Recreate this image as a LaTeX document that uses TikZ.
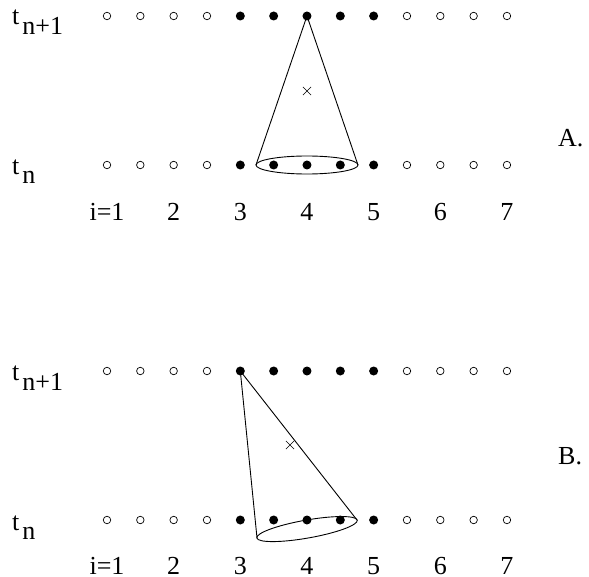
\documentclass[tikz,border=0pt]{standalone}
\usepackage{fontspec}
\setmainfont{Liberation Serif}
\usetikzlibrary{shapes.misc, calc}

\tikzset{
  opendot/.style={circle, draw, line width=0.7pt, inner sep=0pt, minimum size=7.5pt},
  fulldot/.style={circle, fill, inner sep=0pt, minimum size=9pt},
  lbl/.style={font=\fontsize{26}{30}\selectfont, inner sep=0pt, anchor=base},
  centre/.style={cross out, draw, line width=0.6pt, inner sep=0pt, minimum size=7.5pt},
  cone/.style={line width=0.9pt},
}

\begin{document}
\begin{tikzpicture}[x=1pt, y=-1pt]

    \useasboundingbox (0,0) rectangle (589,577);

    % ==========================================
    % VARIABLE DEFINITIONS
    % ==========================================
    \pgfmathsetmacro{\xfirst}{107}    % x of the first grid point
    \pgfmathsetmacro{\dx}{33.33}      % spacing of the grid points
    \pgfmathsetmacro{\Hrow}{149}      % distance between t_n and t_{n+1}
    \pgfmathsetmacro{\Rx}{51}         % half width of the cone base
    \pgfmathsetmacro{\Ry}{9}          % half height of the cone base
    % ==========================================

    % Grid points of both panels (A at the top, B below)
    \foreach \p/\ytop/\Hnum in {A/16/56, B/371/54} {
        \pgfmathsetmacro{\ybot}{\ytop + \Hrow}
        \foreach \k in {1,...,4}   \node[opendot] (\p-top-\k) at (\xfirst + \k*\dx - \dx, \ytop) {};
        \foreach \k in {5,...,9}   \node[fulldot] (\p-top-\k) at (\xfirst + \k*\dx - \dx, \ytop) {};
        \foreach \k in {10,...,13} \node[opendot] (\p-top-\k) at (\xfirst + \k*\dx - \dx, \ytop) {};
        \foreach \k in {1,...,4}   \node[opendot] (\p-bot-\k) at (\xfirst + \k*\dx - \dx, \ybot) {};
        \foreach \k in {5,...,9}   \node[fulldot] (\p-bot-\k) at (\xfirst + \k*\dx - \dx, \ybot) {};
        \foreach \k in {10,...,13} \node[opendot] (\p-bot-\k) at (\xfirst + \k*\dx - \dx, \ybot) {};

        % Time levels
        \node[lbl, anchor=base west] (\p-tup) at (12, \ytop + 9) {t\hspace{3pt}\raisebox{-10pt}{n+1}};
        \node[lbl, anchor=base west] (\p-tlow) at (12, \ybot + 10) {t\hspace{3pt}\raisebox{-9pt}{n}};

        % Space index
        \node[lbl] (\p-i-1) at (\xfirst, \ybot + \Hnum) {i=1};
        \foreach \j in {2,...,7}
            \node[lbl] (\p-i-\j) at (\xfirst + 2*\j*\dx - 2*\dx, \ybot + \Hnum) {\j};
    }

    % Panel labels
    \node[lbl, anchor=base west] (A-name) at (558, 147) {A.};
    \node[lbl, anchor=base west] (B-name) at (558, 464) {B.};

    % Cone A: upright, apex above point 4
    \draw[cone] (A-bot-7.center) ellipse [x radius=\Rx pt, y radius=\Ry pt];
    \coordinate (A-baseL) at ($(A-bot-7.center) + (-\Rx, 0)$);
    \coordinate (A-baseR) at ($(A-bot-7.center) + (\Rx, 0)$);
    \draw[cone] (A-baseL) -- (A-top-7.center) -- (A-baseR);
    \node[centre] (A-mid) at (307, 91) {};

    % Cone B: tilted, apex above point 3
    \coordinate (B-base) at (307, 529);
    \draw[cone, rotate around={10:(B-base)}] (B-base) ellipse [x radius=\Rx pt, y radius=\Ry pt];
    \coordinate (B-baseL) at (257, 538);
    \coordinate (B-baseR) at (357, 520);
    \draw[cone] (B-baseL) -- (B-top-5.center) -- (B-baseR);
    \node[centre] (B-mid) at (290, 445) {};

\end{tikzpicture}
\end{document}
